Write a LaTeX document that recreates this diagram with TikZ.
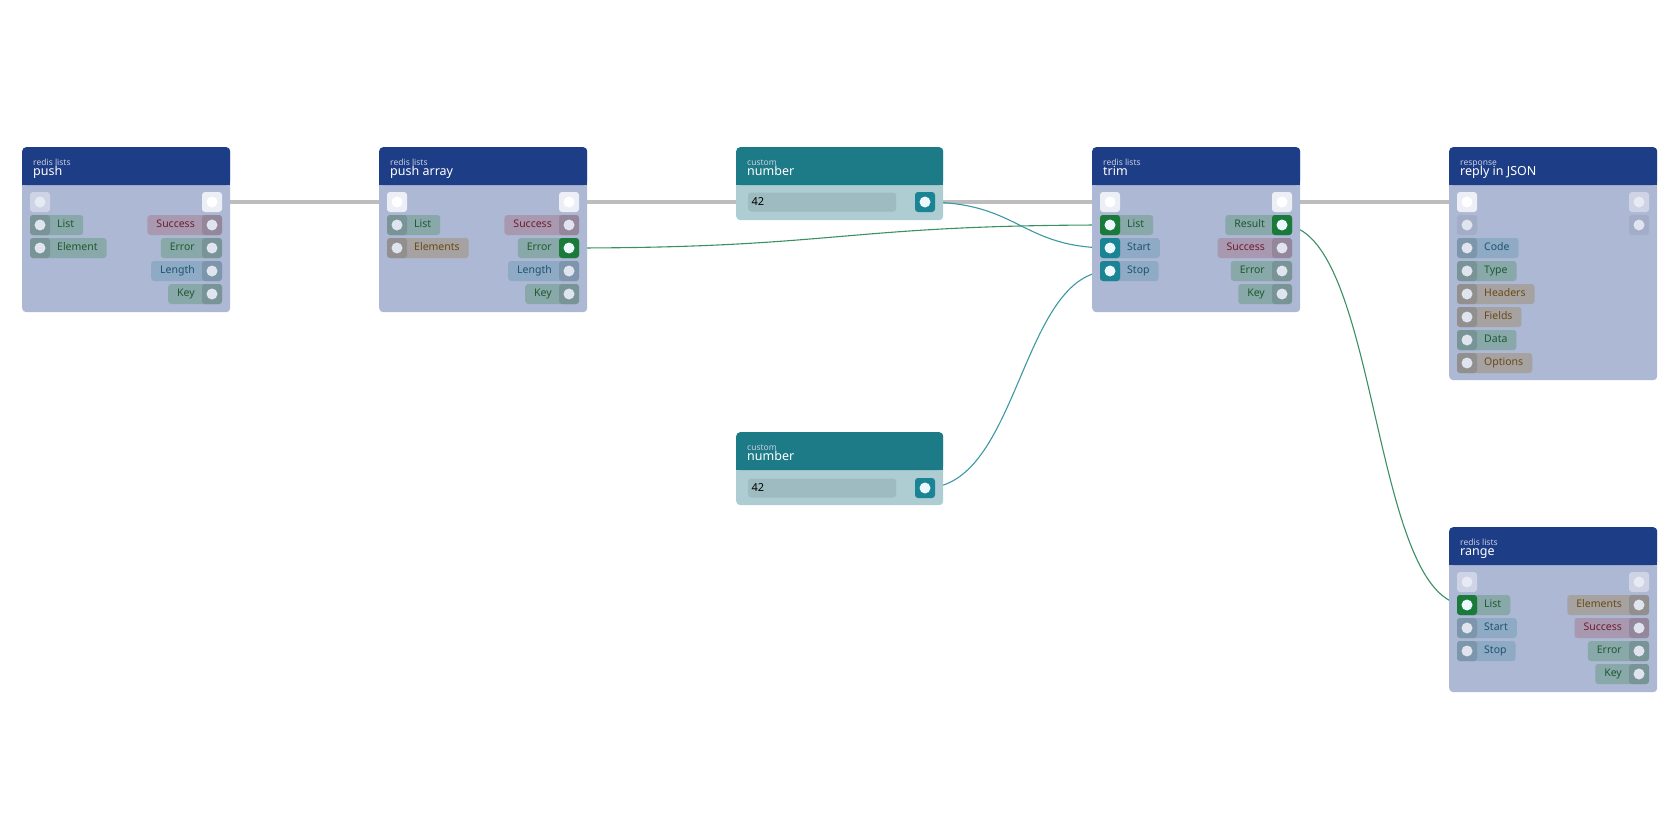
\documentclass[tikz,border=0pt]{standalone}
\usepackage{fontspec}
\setmainfont{Noto Sans}
\usetikzlibrary{positioning,backgrounds}
\definecolor{hdrblue}{HTML}{1E3D87}
\definecolor{hdrteal}{HTML}{1D7A87}
\definecolor{cardbody}{HTML}{ADB8D4}
\definecolor{numbody}{HTML}{AECDD3}
\definecolor{numfield}{HTML}{9DBBC0}
\definecolor{greenpill}{HTML}{88A8AA}
\definecolor{greentext}{HTML}{1E5A2E}
\definecolor{redpill}{HTML}{A898B0}
\definecolor{redtext}{HTML}{6E1E2E}
\definecolor{bluepill}{HTML}{8EAAC4}
\definecolor{bluetext}{HTML}{1E5470}
\definecolor{brownpill}{HTML}{A6A2A2}
\definecolor{browntext}{HTML}{6A4A12}
\definecolor{livegreen}{HTML}{1A7A3A}
\definecolor{liveteal}{HTML}{1A8494}
\definecolor{flowline}{HTML}{BDBDBD}
\definecolor{wiregreen}{HTML}{3A9062}
\definecolor{wireteal}{HTML}{3A98A2}
\newcommand{\card}[9]{%
  \node[card, fill=#7, minimum width=#4pt, minimum height=#5pt] (#1) at (#2,#3) {};
  \node[cardhd, fill=#6, minimum width=#4pt] (#1-hd) at (#2,#3) {};
  \fill[#6] (#1-hd.west) rectangle (#1-hd.south east);
  \node[cat] (#1-cat) at ([xshift=11pt,yshift=-18pt]#1.north west) {#8};
  \node[ttl] (#1-ttl) at ([xshift=11pt,yshift=-28pt]#1.north west) {#9};}
% ports with a label: id, x, y, kind, text
\newcommand{\pinL}[5]{%
  \node[pinL, fill=#4pill, text=#4text] (#1) at ({#2-10},#3) {#5};
  \node[sock, fill=#4pill!88!black] (#1-p) at (#2,#3) {};}
\newcommand{\pinR}[5]{%
  \node[pinR, fill=#4pill, text=#4text] (#1) at ({#2+10},#3) {#5};
  \node[sock, fill=#4pill!88!black] (#1-p) at (#2,#3) {};}
\tikzset{
  card/.style={rectangle, rounded corners=4pt, anchor=north west, inner sep=0pt},
  cardhd/.style={rectangle, rounded corners=4pt, anchor=north west, inner sep=0pt,
                 minimum height=38pt},
  cat/.style={anchor=base west, inner sep=0pt, text=white!75!hdrblue, font=\fontsize{8.5}{9}\selectfont},
  ttl/.style={anchor=base west, inner sep=0pt, text=white, font=\fontsize{12.5}{13}\selectfont},
  pinbase/.style={rectangle, rounded corners=3pt, minimum height=20pt,
               inner ysep=0pt, inner xsep=0pt, text height=7.5pt, text depth=2pt,
               font=\fontsize{10.5}{12}\selectfont},
  pinL/.style={pinbase, anchor=west,
               execute at begin node={\hspace*{27pt}}, execute at end node={\hspace*{9pt}}},
  pinR/.style={pinbase, anchor=east,
               execute at begin node={\hspace*{9pt}}, execute at end node={\hspace*{27pt}}},
  sock/.style={rectangle, rounded corners=3pt, minimum size=20pt, inner sep=0pt,
               path picture={\fill[white!62!cardbody] (path picture bounding box.center) circle (5.5pt);}},
  livesock/.style={sock, fill=#1,
               path picture={\fill[white!92!cyan] (path picture bounding box.center) circle (5.5pt);}},
  flowsock/.style={sock, fill=white!78!cardbody,
               path picture={\fill[white] (path picture bounding box.center) circle (5.5pt);}},
  idlesock/.style={sock, fill=white!40!cardbody,
               path picture={\fill[white!70!cardbody] (path picture bounding box.center) circle (5.5pt);}},
  flow/.style={draw=flowline, line width=4pt},
  wire/.style={draw=#1, line width=1.1pt},
  x=1pt, y=-1pt
}
\begin{document}
\begin{tikzpicture}
  \useasboundingbox (0,0) rectangle (1680,840);
  % cards
  \card{push}{22}{147}{208}{165}{hdrblue}{cardbody}{redis lists}{push}
  \card{pushArr}{379}{147}{208}{165}{hdrblue}{cardbody}{redis lists}{push array}
  \card{numA}{736}{147}{207}{73}{hdrteal}{numbody}{custom}{number}
  \card{numB}{736}{432}{207}{73}{hdrteal}{numbody}{custom}{number}
  \card{trim}{1092}{147}{208}{165}{hdrblue}{cardbody}{redis lists}{trim}
  \card{reply}{1449}{147}{208}{233}{hdrblue}{cardbody}{response}{reply in JSON}
  \card{range}{1449}{527}{208}{165}{hdrblue}{cardbody}{redis lists}{range}
  % number fields
  \node[rectangle, rounded corners=3pt, fill=numfield, minimum width=148pt, minimum height=19pt,
        anchor=west, inner sep=0pt] (numA-val) at (748,202) {};
  \node[anchor=west, font=\fontsize{11}{12}\selectfont] at (numA-val.west) {42};
  \node[rectangle, rounded corners=3pt, fill=numfield, minimum width=148pt, minimum height=19pt,
        anchor=west, inner sep=0pt] (numB-val) at (748,488) {};
  \node[anchor=west, font=\fontsize{11}{12}\selectfont] at (numB-val.west) {42};
  \node[livesock=liveteal] (numA-out) at (925,202) {};
  \node[livesock=liveteal] (numB-out) at (925,488) {};
  % flow sockets
  \node[idlesock] (push-in) at (40,202) {};
  \node[flowsock] (push-out) at (212,202) {};
  \node[flowsock] (pushArr-in) at (397,202) {};
  \node[flowsock] (pushArr-out) at (569,202) {};
  \node[flowsock] (trim-in) at (1110,202) {};
  \node[flowsock] (trim-out) at (1282,202) {};
  \node[flowsock] (reply-in) at (1467,202) {};
  \node[idlesock] (reply-out) at (1639,202) {};
  \node[idlesock] (range-in) at (1467,582) {};
  \node[idlesock] (range-out) at (1639,582) {};
  \node[sock, fill=cardbody!94!black] (reply-l2) at (1467,225) {};
  \node[sock, fill=cardbody!94!black] (reply-r2) at (1639,225) {};
  % push
  \pinL{push-list}{40}{225}{green}{List}
  \pinL{push-elem}{40}{248}{green}{Element}
  \pinR{push-ok}{212}{225}{red}{Success}
  \pinR{push-err}{212}{248}{green}{Error}
  \pinR{push-len}{212}{271}{blue}{Length}
  \pinR{push-key}{212}{294}{green}{Key}
  % push array
  \pinL{pushArr-list}{397}{225}{green}{List}
  \pinL{pushArr-elems}{397}{248}{brown}{Elements}
  \pinR{pushArr-ok}{569}{225}{red}{Success}
  \pinR{pushArr-err}{569}{248}{green}{Error}
  \pinR{pushArr-len}{569}{271}{blue}{Length}
  \pinR{pushArr-key}{569}{294}{green}{Key}
  \node[livesock=livegreen] at (pushArr-err-p) {};
  % trim
  \pinL{trim-list}{1110}{225}{green}{List}
  \pinL{trim-start}{1110}{248}{blue}{Start}
  \pinL{trim-stop}{1110}{271}{blue}{Stop}
  \pinR{trim-res}{1282}{225}{green}{Result}
  \pinR{trim-ok}{1282}{248}{red}{Success}
  \pinR{trim-err}{1282}{271}{green}{Error}
  \pinR{trim-key}{1282}{294}{green}{Key}
  \node[livesock=livegreen] at (trim-list-p) {};
  \node[livesock=liveteal] at (trim-start-p) {};
  \node[livesock=liveteal] at (trim-stop-p) {};
  \node[livesock=livegreen] at (trim-res-p) {};
  % reply
  \pinL{reply-code}{1467}{248}{blue}{Code}
  \pinL{reply-type}{1467}{271}{green}{Type}
  \pinL{reply-hdrs}{1467}{294}{brown}{Headers}
  \pinL{reply-flds}{1467}{317}{brown}{Fields}
  \pinL{reply-data}{1467}{340}{green}{Data}
  \pinL{reply-opts}{1467}{363}{brown}{Options}
  % range
  \pinL{range-list}{1467}{605}{green}{List}
  \pinL{range-start}{1467}{628}{blue}{Start}
  \pinL{range-stop}{1467}{651}{blue}{Stop}
  \pinR{range-elems}{1639}{605}{brown}{Elements}
  \pinR{range-ok}{1639}{628}{red}{Success}
  \pinR{range-err}{1639}{651}{green}{Error}
  \pinR{range-key}{1639}{674}{green}{Key}
  \node[livesock=livegreen] at (range-list-p) {};
  % connectors
  \begin{scope}[on background layer]
    \draw[flow] (push-out.center) -- (pushArr-in.center);
    \draw[flow] (pushArr-out.center) -- (trim-in.center);
    \draw[flow] (trim-out.center) -- (reply-in.center);
    \draw[wire=wiregreen] (pushArr-err-p.center) .. controls (840,248) and (840,225) .. (trim-list-p.center);
    \draw[wire=wireteal] (numA-out.center) .. controls (1020,202) and (1020,248) .. (trim-start-p.center);
    \draw[wire=wireteal] (numB-out.center) .. controls (1020,488) and (1020,271) .. (trim-stop-p.center);
    \draw[wire=wiregreen] (trim-res-p.center) .. controls (1380,225) and (1370,605) .. (range-list-p.center);
  \end{scope}
\end{tikzpicture}
\end{document}
